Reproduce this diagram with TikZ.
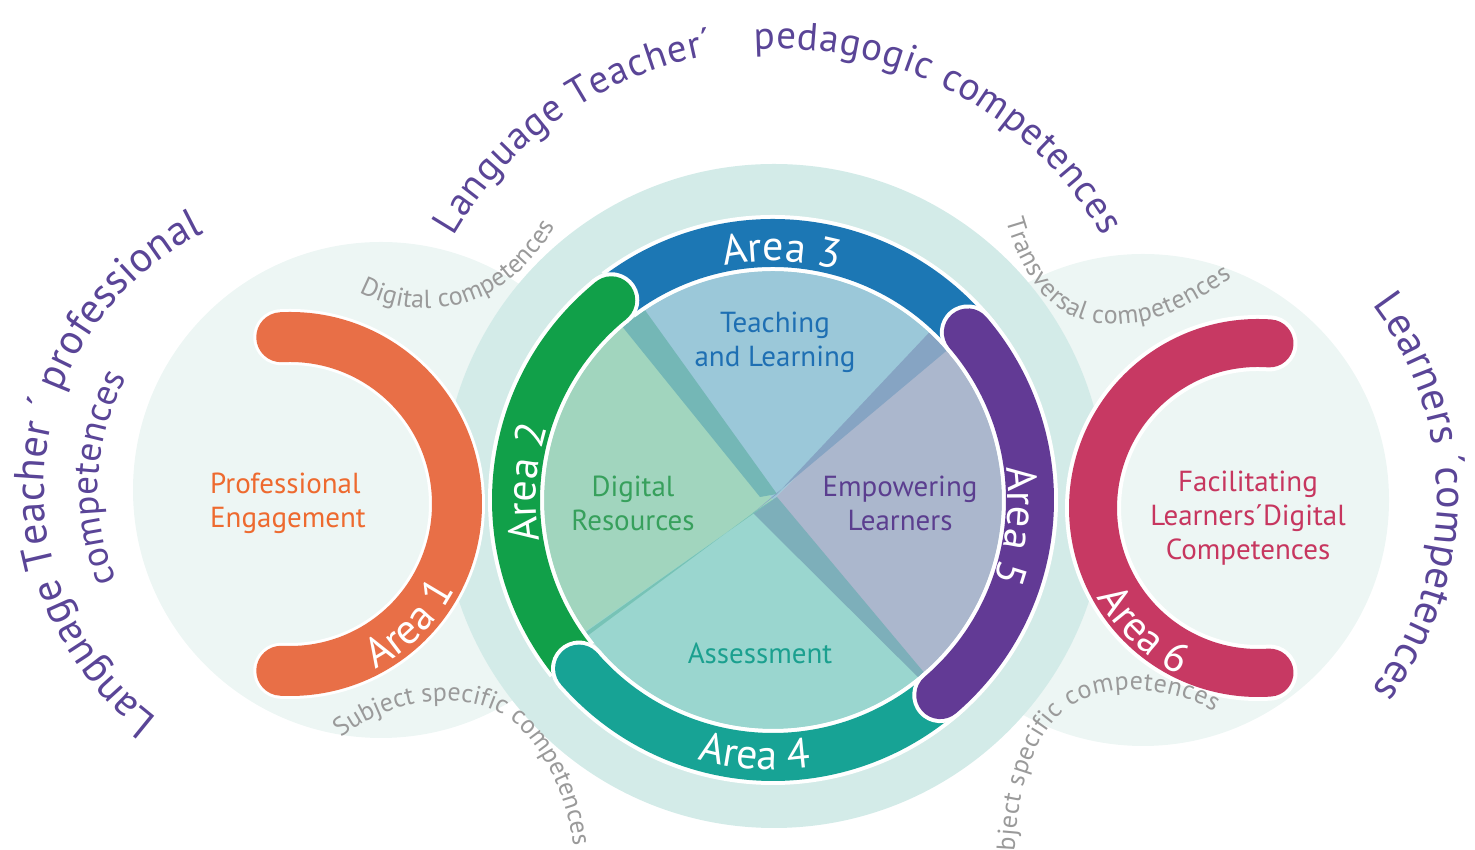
\documentclass[tikz,border=0pt]{standalone}
\usepackage{fontspec}
\setmainfont{PT Sans}
\usetikzlibrary{decorations.text}

\definecolor{bigring}{HTML}{D3EBE8}
\definecolor{sideround}{HTML}{EDF6F4}
\definecolor{areaone}{HTML}{E86F47}
\definecolor{areatwo}{HTML}{11A049}
\definecolor{areathree}{HTML}{1C77B4}
\definecolor{areafour}{HTML}{17A395}
\definecolor{areafive}{HTML}{623A95}
\definecolor{areasix}{HTML}{C73963}
\definecolor{titlepurple}{HTML}{5A4597}
\definecolor{softgrey}{HTML}{9A9A9A}
\definecolor{secblue}{HTML}{9BC8D9}
\definecolor{secgreen}{HTML}{A1D5BE}
\definecolor{secteal}{HTML}{9AD6CF}
\definecolor{seclav}{HTML}{ABB7CD}
\definecolor{stripul}{HTML}{74B7B6}
\definecolor{stripur}{HTML}{86A4C3}
\definecolor{striplr}{HTML}{7DAFBA}
\definecolor{stripll}{HTML}{77C3B6}
\definecolor{engorange}{HTML}{EE6A2F}
\definecolor{teachblue}{HTML}{1E6FB3}
\definecolor{resgreen}{HTML}{37A05C}
\definecolor{emppurple}{HTML}{5B3E8F}
\definecolor{assteal}{HTML}{1BA08F}
\definecolor{facred}{HTML}{C7365F}

\begin{document}
\begin{tikzpicture}[
  x=1pt, y=1pt,
  every node/.style={font=\fontsize{29}{34}\selectfont, align=center, inner sep=0pt},
  bandedge/.style={white, line width=56},
  band/.style={line width=48},
  arealabel/.style={decorate, decoration={text along path, text align=center,
      text color=white, text={|\fontsize{42}{42}\selectfont|#1}}},
  titletext/.style 2 args={decorate, decoration={text along path, text align=fit to path,
      text color=titlepurple, text={|\fontsize{#1}{#1}\selectfont|#2}}},
  greytext/.style={decorate, decoration={text along path, text align=fit to path,
      text color=softgrey, text={|\fontsize{26}{26}\selectfont|#1}}}
  ]

\useasboundingbox (0,0) rectangle (1475,850);

% Centres
\coordinate (ring) at (773,350);
\coordinate (onec) at (290,346);
\coordinate (sixc) at (1258,342);
\coordinate (bapex) at (777,356);
\coordinate (qapex) at (760,353);
\coordinate (vapex) at (753,337);
\coordinate (tapex) at (777,353);

% Background circles
\fill[sideround] (381,360) circle[radius=248];
\fill[sideround] (1143,350) circle[radius=246];
\fill[bigring] (774,354) circle[radius=332];

% Sectors
\fill[secblue] (ring) -- ++(45:229) arc[start angle=45, end angle=127, radius=229] -- cycle;
\fill[secgreen] (ring) -- ++(127:229) arc[start angle=127, end angle=216, radius=229] -- cycle;
\fill[secteal] (ring) -- ++(215:229) arc[start angle=215, end angle=311, radius=229] -- cycle;
\fill[seclav] (ring) -- ++(-50:229) arc[start angle=-50, end angle=45, radius=229] -- cycle;
% Darker strips
\fill[stripul] ([shift={(131:229)}]ring) arc[start angle=131, end angle=124, radius=229] -- (bapex) -- (qapex) -- cycle;
\fill[stripur] ([shift={(47:229)}]ring) arc[start angle=47, end angle=40.7, radius=229] -- (vapex) -- (bapex) -- cycle;
\fill[striplr] ([shift={(-50.7:229)}]ring) arc[start angle=-50.7, end angle=-48.8, radius=229] -- (tapex) -- (vapex) -- cycle;
\fill[stripll] ([shift={(215.2:229)}]ring) arc[start angle=215.2, end angle=216.2, radius=229] -- (vapex) -- (tapex) -- cycle;

% Area 3
\draw[bandedge] (ring) ++(127:257) arc[start angle=127, end angle=38, radius=257];
\draw[band, areathree] (ring) ++(127:257) arc[start angle=127, end angle=38, radius=257];
% Area 2
\draw[bandedge] (ring) ++(129:257) arc[start angle=129, end angle=218.5, radius=257];
\fill[white] (ring) ++(129:257) circle[radius=28];
\draw[band, areatwo] (ring) ++(129:257) arc[start angle=129, end angle=218.5, radius=257];
\fill[areatwo] (ring) ++(129:257) circle[radius=24];
% Area 4
\draw[bandedge] (ring) ++(221:257) arc[start angle=221, end angle=313, radius=257];
\fill[white] (ring) ++(221:257) circle[radius=28];
\draw[band, areafour] (ring) ++(221:257) arc[start angle=221, end angle=313, radius=257];
\fill[areafour] (ring) ++(221:257) circle[radius=24];
% Area 5
\draw[bandedge, line cap=round] (ring) ++(40.7:257) arc[start angle=40.7, end angle=-49.4, radius=257];
\draw[band, areafive, line cap=round] (ring) ++(40.7:257) arc[start angle=40.7, end angle=-49.4, radius=257];

% Ring labels
\path[arealabel={Area 3}] (ring) ++(123:239) arc[start angle=123, end angle=53, radius=239];
\path[arealabel={Area 2}] (ring) ++(216:237) arc[start angle=216, end angle=136, radius=237];
\path[arealabel={Area 5}] (ring) ++(34:235) arc[start angle=34, end angle=-46, radius=235];
\path[arealabel={Area 4}] (ring) ++(226:270) arc[start angle=226, end angle=306, radius=270];

% Area 1
\draw[white, line width=56, line cap=round] (onec) ++(93:167) arc[start angle=93, end angle=-93, radius=167];
\draw[areaone, line width=50, line cap=round] (onec) ++(93:167) arc[start angle=93, end angle=-93, radius=167];
\path[arealabel={Area 1}] (onec) ++(-85:186) arc[start angle=-85, end angle=-5, radius=186];

% Area 6
\draw[bandedge, line cap=round] (sixc) ++(86:165) arc[start angle=86, end angle=274, radius=165];
\draw[band, areasix, line cap=round] (sixc) ++(86:165) arc[start angle=86, end angle=274, radius=165];
\path[arealabel={Area 6}] (sixc) ++(187:184) arc[start angle=187, end angle=267, radius=184];

% Inner labels
\node[text=engorange, align=left] (engage) at (288,347) {Professional\\Engagement};
\node[text=teachblue] (teach) at (775,508) {Teaching\\and Learning};
\node[text=resgreen] (digres) at (633,347) {Digital\\Resources};
\node[text=emppurple] (empower) at (900,347) {Empowering\\Learners};
\node[text=assteal] (assess) at (760,197) {Assessment};
\node[text=facred] (facil) at (1248,332) {Facilitating\\Learners´Digital\\Competences};

% Grey labels
\path[greytext={Digital competences}] (359,558) .. controls (417,527) and (505,535) .. (555,624);
\path[greytext={Transversal competences}] (1006,630) .. controls (1020,580) and (1045,538) .. (1090,528)
  .. controls (1150,518) and (1190,545) .. (1232,572);
\path[greytext={Subject specific competences}] (341,112) .. controls (395,155) and (475,163) .. (518,124)
  .. controls (547,97) and (566,52) .. (573,8);
\path[greytext={Subject specific competences}] (1014,-30) .. controls (1014,50) and (1028,105) .. (1062,138)
  .. controls (1100,170) and (1170,165) .. (1214,138);

% Purple titles
\path[titletext={39}{Language Teacher´{\quad}pedagogic competences}] (778,426) ++(150:375) arc[start angle=150, end angle=30, radius=375];
\path[titletext={42}{Language Teacher ´ professional}] (330,360) ++(233:286) arc[start angle=233, end angle=116, radius=286];
\path[titletext={37}{competences}] (330,360) ++(203:232) arc[start angle=203, end angle=151, radius=232];
\path[titletext={42}{Learners ´competences}] (1121,353) ++(37.4:316) arc[start angle=37.4, end angle=-36.7, radius=316];

\end{tikzpicture}
\end{document}
